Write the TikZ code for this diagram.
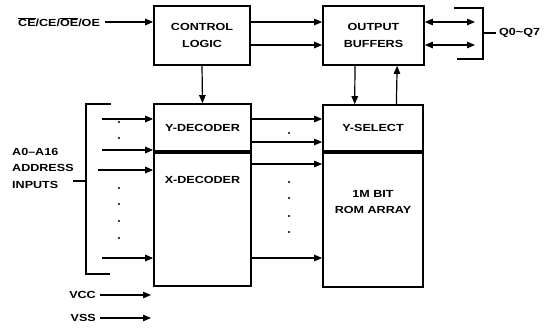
\documentclass[tikz,border=0pt]{standalone}
\usepackage{fontspec}
\setmainfont{Liberation Sans}[FakeStretch=1.22]
\usetikzlibrary{arrows.meta,calc}
\newcommand\ovl[1]{$\overline{\mbox{#1}}$}
\begin{document}
\begin{tikzpicture}[x=1pt,y=-1pt,
  box/.style={draw,line width=1.7pt,inner sep=0pt,font=\bfseries\fontsize{10.3}{16.5}\selectfont,align=center},
  arr/.style={line width=1.2pt,-{Triangle[length=8pt,width=6.5pt]}},
  darr/.style={line width=1.2pt,{Triangle[length=8pt,width=6.5pt]}-{Triangle[length=8pt,width=6.5pt]}},
  ln/.style={line width=1.2pt},
  lbl/.style={font=\bfseries\fontsize{10.3}{16.5}\selectfont,inner sep=0pt},
  dotm/.style={circle,fill,inner sep=0pt,minimum size=2.2pt}]
\useasboundingbox (0,0) rectangle (544,327);
% boxes
\node[box,minimum width=96pt,minimum height=59pt] (ctrl) at (202,35.5) {CONTROL\\LOGIC};
\node[box,minimum width=101pt,minimum height=59pt] (obuf) at (373.5,35.5) {OUTPUT\\BUFFERS};
\node[box,minimum width=97pt,minimum height=47pt] (ydec) at (202.5,127.5) {Y-DECODER};
\node[box,minimum width=97pt,minimum height=133pt,anchor=north] (xdec) at (ydec.south) {};
\node[lbl] (xdect) at (202.5,180) {X-DECODER};
\node[box,minimum width=100pt,minimum height=46pt] (ysel) at (373,128) {Y-SELECT};
\node[box,minimum width=100pt,minimum height=134pt,anchor=north] (rom) at (ysel.south) {};
\node[lbl,align=center] (romt) at (373,202) {1M BIT\\ROM ARRAY};
% control input
\node[lbl,anchor=west] (ce) at (18,22) {\ovl{CE}/CE/\ovl{OE}/OE};
\coordinate (ceS) at (105,22);
\draw[arr] (ceS) -- (ceS -| ctrl.west);
% control to outbuf
\draw[arr] (ctrl.east |- 0,22) -- (obuf.west |- 0,22);
\draw[arr] (ctrl.east |- 0,45) -- (obuf.west |- 0,45);
\draw[arr] (ctrl.south) -- (ydec.north);
% outbuf to outputs
\coordinate (qa) at (475,22);
\coordinate (qb) at (475,45);
\draw[darr] (obuf.east |- qa) -- (qa);
\draw[darr] (obuf.east |- qb) -- (qb);
\node[lbl,anchor=west] (q) at (499,33) {Q0{\char"7E}Q7};
\draw[ln] (454,8) -- (483,8) -- (483,59) -- (457,59);
\draw[ln] (483,33) -- ([xshift=-3pt]q.west);
% outbuf <-> ysel
\draw[arr] ($(obuf.south west)!0.32!(obuf.south east)$) -- ($(ysel.north west)!0.32!(ysel.north east)$);
\draw[arr] ($(ysel.north west)!0.73!(ysel.north east)$) -- ($(obuf.south west)!0.73!(obuf.south east)$);
% address inputs
\node[lbl,anchor=north west,align=left] (addr) at (12,148) {A0--A16\\ADDRESS\\INPUTS};
\draw[ln] (111,104) -- (86,104) -- (86,274) -- (110,274);
\draw[ln] (73,181) -- (86,181);
\foreach \y/\xs in {119/102,150/102,170/98,258/102}{
  \coordinate (ai) at (\xs,\y);
  \draw[arr] (ai) -- (ai -| ydec.west);
}
\foreach \y in {122,138,188,204,221,238}{
  \node[dotm] at (119,\y) {};
}
% decoder to array
\foreach \y in {119,142,164,258}{
  \coordinate (di) at (ydec.east |- 0,\y);
  \draw[arr] (di) -- (di -| ysel.west);
}
\foreach \y in {133,182,198,216,232}{
  \node[dotm] at (289,\y) {};
}
% power
\node[lbl,anchor=east] (vcc) at (96,295) {VCC};
\node[lbl,anchor=east] (vss) at (96,318) {VSS};
\coordinate (vccE) at (151,295);
\coordinate (vssE) at (151,318);
\draw[arr] (vcc.east) ++(4,0) -- (vccE);
\draw[arr] (vss.east) ++(4,0) -- (vssE);
\end{tikzpicture}
\end{document}
